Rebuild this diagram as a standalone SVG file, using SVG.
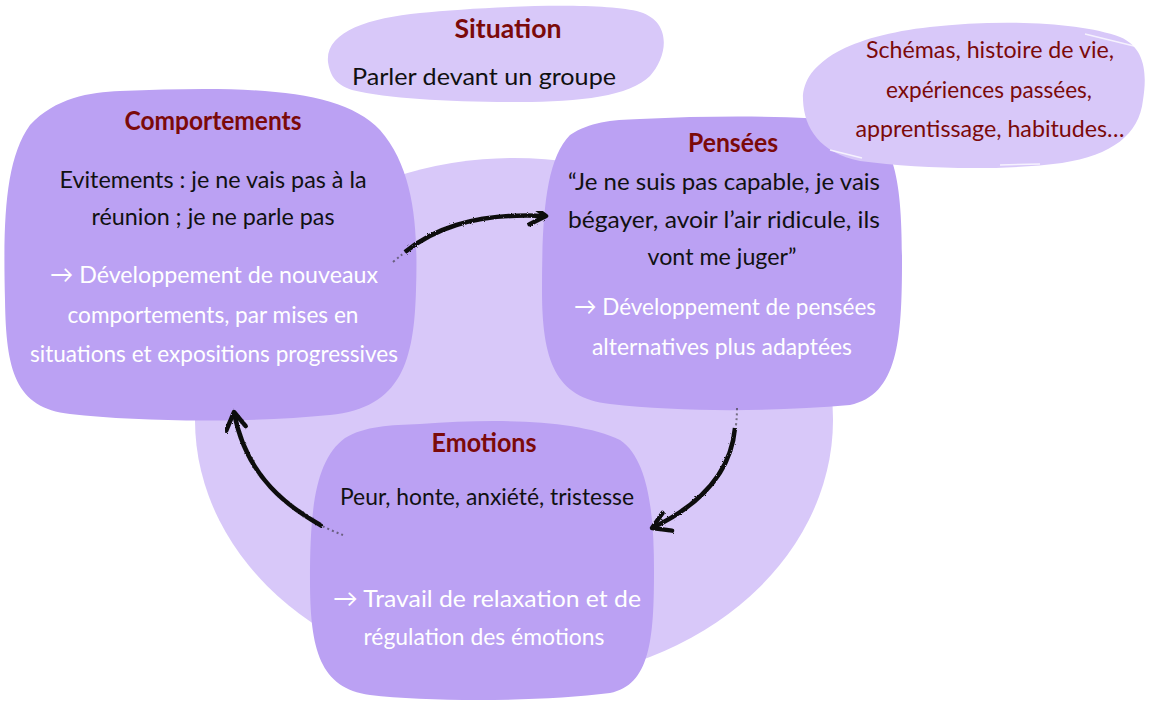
<svg xmlns="http://www.w3.org/2000/svg" width="1153" height="702" viewBox="0 0 1153 702">
<defs>
<style>
.bg{fill:#ffffff}
.light{fill:#d8c8f9}
.box{fill:#bba1f3}
.t{font-family:Lato,"Open Sans","Liberation Sans",sans-serif;text-anchor:middle}
.title{font-size:27px;font-weight:bold;fill:#7b0a0a}
.dark{font-size:24px;fill:#111111}
.white{font-size:24px;fill:#ffffff}
.red{font-size:23px;fill:#7b0a0a}
.arrow{fill:none;stroke:#111111;stroke-width:4.5;stroke-linecap:butt;filter:url(#rough)}
.tail{fill:none;stroke:#333333;stroke-width:2;stroke-dasharray:2 3;opacity:0.6}
.streak{fill:none;stroke:#ffffff;stroke-width:1.5;opacity:0.75}
</style>
<filter id="rough" x="-10%" y="-10%" width="120%" height="120%">
<feTurbulence type="fractalNoise" baseFrequency="0.9" numOctaves="2" seed="3" result="n"/>
<feDisplacementMap in="SourceGraphic" in2="n" scale="2.5"/>
</filter>
<marker id="head" markerWidth="30" markerHeight="30" refX="0" refY="0" viewBox="-20 -15 30 30" orient="auto" markerUnits="userSpaceOnUse">
<path d="M -17 -11 L 0 0 L -16 9" fill="none" stroke="#111111" stroke-width="4.5" stroke-linecap="round" stroke-linejoin="round"/>
</marker>
</defs>
<rect class="bg" x="0" y="0" width="1153" height="702"/>
<ellipse class="light" cx="514" cy="420" rx="319" ry="262"/>

<g id="node-comportements">
<path class="box" d="M 120,91 C 250,86 340,88 380,130 C 415,170 418,230 416,290 C 414,360 402,408 330,415 C 250,423 140,422 70,414 C 15,408 6,370 5,300 C 3,220 5,160 30,125 C 55,98 90,92 120,91 Z"/>
<text class="t title" x="213" y="130" textLength="177" lengthAdjust="spacingAndGlyphs">Comportements</text>
<text class="t dark" x="213" y="188" textLength="307" lengthAdjust="spacingAndGlyphs">Evitements : je ne vais pas à la</text>
<text class="t dark" x="213" y="225" textLength="243" lengthAdjust="spacingAndGlyphs">réunion ; je ne parle pas</text>
<text class="t white" x="214" y="283" textLength="328" lengthAdjust="spacingAndGlyphs">→ Développement de nouveaux</text>
<text class="t white" x="213" y="323" textLength="291" lengthAdjust="spacingAndGlyphs">comportements, par mises en</text>
<text class="t white" x="214" y="362" textLength="368" lengthAdjust="spacingAndGlyphs">situations et expositions progressives</text>
</g>

<g id="node-pensees">
<path class="box" d="M 640,119 C 720,115 800,116 850,121 C 895,129 902,180 902,260 C 902,340 898,395 850,405 C 770,412 680,412 610,404 C 555,398 542,360 542,290 C 542,220 545,160 570,135 C 590,122 610,120 640,119 Z"/>
<text class="t title" x="733" y="152" textLength="90" lengthAdjust="spacingAndGlyphs">Pensées</text>
<text class="t dark" x="724" y="190" textLength="312" lengthAdjust="spacingAndGlyphs">“Je ne suis pas capable, je vais</text>
<text class="t dark" x="724" y="228" textLength="312" lengthAdjust="spacingAndGlyphs">bégayer, avoir l’air ridicule, ils</text>
<text class="t dark" x="722" y="265" textLength="149" lengthAdjust="spacingAndGlyphs">vont me juger”</text>
<text class="t white" x="725" y="315" textLength="302" lengthAdjust="spacingAndGlyphs">→ Développement de pensées</text>
<text class="t white" x="722" y="355" textLength="260" lengthAdjust="spacingAndGlyphs">alternatives plus adaptées</text>
</g>

<g id="node-emotions">
<path class="box" d="M 420,424 C 500,418 580,420 620,440 C 650,460 654,520 654,570 C 654,640 650,685 610,693 C 540,702 430,702 370,695 C 320,688 310,650 310,580 C 310,510 315,460 345,438 C 365,426 390,425 420,424 Z"/>
<text class="t title" x="484" y="452" textLength="105" lengthAdjust="spacingAndGlyphs">Emotions</text>
<text class="t dark" x="487" y="505" textLength="294" lengthAdjust="spacingAndGlyphs">Peur, honte, anxiété, tristesse</text>
<text class="t white" x="487" y="607" textLength="308" lengthAdjust="spacingAndGlyphs">→ Travail de relaxation et de</text>
<text class="t white" x="484" y="645" textLength="241" lengthAdjust="spacingAndGlyphs">régulation des émotions</text>
</g>

<g id="node-situation">
<path class="light" d="M 328,62 C 325,32 368,18 420,13 C 480,7 600,1 640,12 C 672,22 668,56 650,76 C 630,96 580,102 520,102 C 450,102 390,99 352,90 C 334,84 330,74 328,62 Z"/>
<text class="t title" x="508" y="38" textLength="107" lengthAdjust="spacingAndGlyphs">Situation</text>
<text class="t dark" x="484" y="85" textLength="264" lengthAdjust="spacingAndGlyphs">Parler devant un groupe</text>
</g>

<g id="node-schemas">
<path class="light" d="M 803,100 C 802,62 850,36 930,27 C 1000,19 1080,22 1120,37 C 1146,48 1147,75 1143,100 C 1139,135 1112,155 1062,163 C 1000,171 920,169 860,161 C 820,153 804,128 803,100 Z"/>
<path class="streak" d="M 1085,34 L 1138,47 M 1120,148 L 1141,130 M 1000,165 L 1040,164 M 830,150 L 862,158 M 812,70 L 826,58"/>
<text class="t red" x="990" y="58" textLength="248" lengthAdjust="spacingAndGlyphs">Schémas, histoire de vie,</text>
<text class="t red" x="989" y="98" textLength="206" lengthAdjust="spacingAndGlyphs">expériences passées,</text>
<text class="t red" x="990" y="137" textLength="269" lengthAdjust="spacingAndGlyphs">apprentissage, habitudes…</text>
</g>

<g id="connectors">
<path class="tail" d="M 393,262 C 400,256 405,252 410,249"/>
<path class="arrow" d="M 405,252 C 430,232 470,212 546,216" marker-end="url(#head)"/>
<path class="tail" d="M 737,408 C 737,418 736,426 735,432"/>
<path class="arrow" d="M 735,428 C 732,460 715,498 652,528" marker-end="url(#head)"/>
<path class="tail" d="M 343,535 C 335,532 326,528 318,524"/>
<path class="arrow" d="M 322,526 C 290,508 246,478 234,412" marker-end="url(#head)"/>
</g>
</svg>
